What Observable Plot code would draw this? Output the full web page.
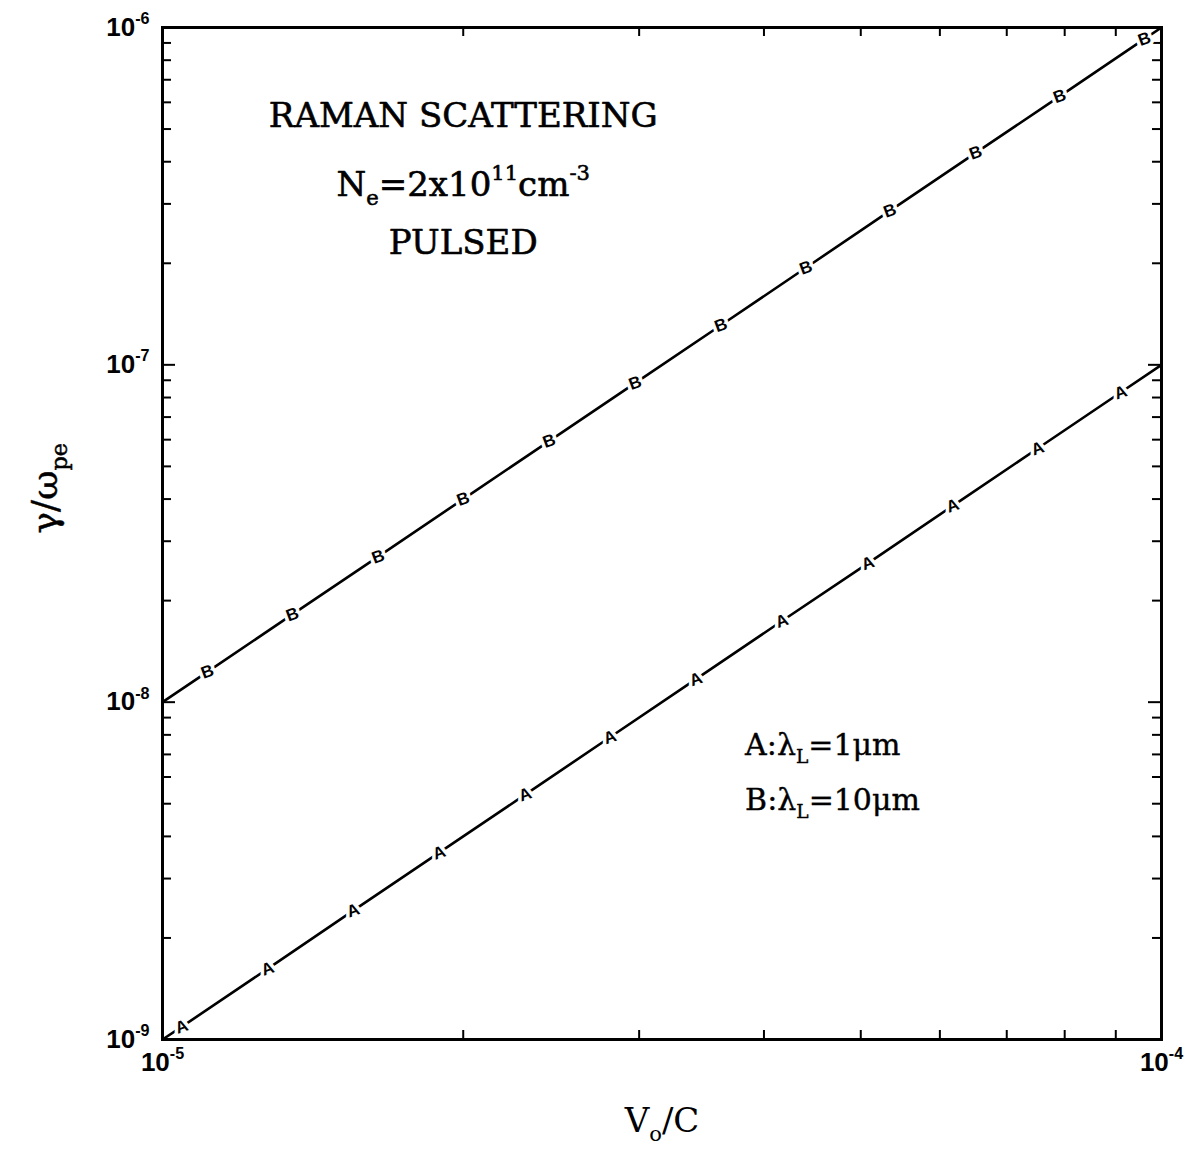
<!DOCTYPE html>
<html>
<head>
<meta charset="utf-8">
<script src="https://cdn.jsdelivr.net/npm/d3@7"></script>
<script src="https://cdn.jsdelivr.net/npm/@observablehq/plot@0.6"></script>
<style>
  html, body { margin: 0; padding: 0; background: #fff; }
  #chart svg { display: block; }
</style>
</head>
<body>
<div id="chart"></div>
<script>
// ---- data ----
// curve B (lambda_L = 10 um): marker positions
const xB = [1.109e-5, 1.349e-5, 1.644e-5, 2.0e-5, 2.438e-5, 2.972e-5, 3.622e-5, 4.406e-5, 5.346e-5, 6.516e-5, 7.907e-5, 9.616e-5];
const yB = [1.23e-8, 1.82e-8, 2.70e-8, 4.0e-8, 5.94e-8, 8.83e-8, 1.31e-7, 1.94e-7, 2.86e-7, 4.25e-7, 6.25e-7, 9.25e-7];
// curve A (lambda_L = 1 um): marker positions
const xA = [1.045e-5, 1.274e-5, 1.552e-5, 1.892e-5, 2.307e-5, 2.805e-5, 3.420e-5, 4.169e-5, 5.082e-5, 6.180e-5, 7.516e-5, 9.099e-5];
const yA = [1.09e-9, 1.62e-9, 2.41e-9, 3.58e-9, 5.32e-9, 7.87e-9, 1.17e-8, 1.74e-8, 2.58e-8, 3.82e-8, 5.65e-8, 8.28e-8];
// curve end points (at the frame edges)
const endX = [1e-5, 1e-4];
const endB = [1e-8, 1e-6];
const endA = [1e-9, 1e-7];

// axis ticks
const xMajor = [1e-5, 1e-4];
const xMinor = [2e-5, 3e-5, 4e-5, 5e-5, 6e-5, 7e-5, 8e-5, 9e-5];
const yMajor = [1e-9, 1e-8, 1e-7, 1e-6];
const yMinor = [];
for (const p of [1e-9, 1e-8, 1e-7]) for (let k = 2; k <= 9; k++) yMinor.push(+(k * p).toPrecision(3));
const xTickLabels = ["10^{-5}", "10^{-4}"];
const yTickLabels = ["10^{-9}", "10^{-8}", "10^{-7}", "10^{-6}"];

// texts
const xTitle = "V_{o}/C";
const yTitle = "γ/ω_{pe}";
const notes = [
  {text: "RAMAN SCATTERING", x: 2.0e-5, y: 5.45e-7},
  {text: "N_{e}=2x10^{11}cm^{-3}", x: 2.0e-5, y: 3.42e-7},
  {text: "PULSED", x: 2.0e-5, y: 2.30e-7}
];
const legend = [
  {text: "A:λ_{L}=1μm", x: 3.83e-5, y: 7.45e-9},
  {text: "B:λ_{L}=10μm", x: 3.83e-5, y: 5.12e-9}
];

// ---- build tables ----
const lineB = [endX[0], ...xB, endX[1]].map((x, i) => ({x, y: [endB[0], ...yB, endB[1]][i]}));
const lineA = [endX[0], ...xA, endX[1]].map((x, i) => ({x, y: [endA[0], ...yA, endA[1]][i]}));
const markB = xB.map((x, i) => ({x, y: yB[i], s: "B"}));
const markA = xA.map((x, i) => ({x, y: yA[i], s: "A"}));
const xLab = xMajor.map((x, i) => ({x, t: xTickLabels[i]}));
const yLab = yMajor.map((y, i) => ({y, t: yTickLabels[i]}));

const W = 1190, H = 1159;
const mL = 162, mR = 29, mT = 27, mB = 120;
const fw = W - mL - mR, fh = H - mT - mB;
const minorLen = 9, majorLen = 13;
const tickFont = "'Liberation Sans', Arial, sans-serif";
const serif = "'DejaVu Serif', serif";

const chart = Plot.plot({
  width: W, height: H,
  marginLeft: mL, marginRight: mR, marginTop: mT, marginBottom: mB,
  style: {background: "#fff", color: "#000"},
  x: {type: "log", domain: [1e-5, 1e-4], axis: null},
  y: {type: "log", domain: [1e-9, 1e-6], axis: null},
  marks: [
    // inward ticks
    Plot.tickX(xMinor, {x: d => d, insetTop: fh - minorLen, stroke: "#000", strokeWidth: 2}),
    Plot.tickX(xMinor, {x: d => d, insetBottom: fh - minorLen, stroke: "#000", strokeWidth: 2}),
    Plot.tickY(yMinor, {y: d => d, insetRight: fw - minorLen, stroke: "#000", strokeWidth: 2}),
    Plot.tickY(yMinor, {y: d => d, insetLeft: fw - minorLen, stroke: "#000", strokeWidth: 2}),
    Plot.tickY(yMajor, {y: d => d, insetRight: fw - majorLen, stroke: "#000", strokeWidth: 2}),
    Plot.tickY(yMajor, {y: d => d, insetLeft: fw - majorLen, stroke: "#000", strokeWidth: 2}),
    Plot.frame({stroke: "#000", strokeWidth: 3}),
    // tick labels
    Plot.text(xLab, {x: "x", text: "t", frameAnchor: "bottom", dy: 31, fontSize: 26, fontWeight: "bold",
      fontFamily: tickFont, fill: "#000", textAnchor: "middle"}),
    Plot.text(yLab, {y: "y", text: "t", frameAnchor: "left", dx: -13, fontSize: 26, fontWeight: "bold",
      fontFamily: tickFont, fill: "#000", textAnchor: "end"}),
    // curves
    Plot.line(lineB, {x: "x", y: "y", stroke: "#000", strokeWidth: 2.6}),
    Plot.line(lineA, {x: "x", y: "y", stroke: "#000", strokeWidth: 2.6}),
    Plot.text(markB, {x: "x", y: "y", text: "s", rotate: -20, fontSize: 17, fontWeight: "bold",
      fontFamily: tickFont, fill: "#000", stroke: "#fff", strokeWidth: 7, paintOrder: "stroke"}),
    Plot.text(markA, {x: "x", y: "y", text: "s", rotate: -20, fontSize: 17, fontWeight: "bold",
      fontFamily: tickFont, fill: "#000", stroke: "#fff", strokeWidth: 7, paintOrder: "stroke"}),
    // annotations
    Plot.text(notes, {x: "x", y: "y", text: "text", fontSize: 34, fontFamily: serif, fill: "#000",
      stroke: "#000", strokeWidth: 0.6, textAnchor: "middle"}),
    Plot.text(legend, {x: "x", y: "y", text: "text", fontSize: 30, fontFamily: serif, fill: "#000",
      stroke: "#000", strokeWidth: 0.4, textAnchor: "start"}),
    // axis titles
    Plot.text([xTitle], {text: d => d, frameAnchor: "bottom", dy: 92, fontSize: 34, fontFamily: serif, fill: "#000"}),
    Plot.text([yTitle], {text: d => d, frameAnchor: "left", dx: -117, rotate: -90, fontSize: 36, fontFamily: serif, fill: "#000",
      stroke: "#000", strokeWidth: 0.5})
  ]
});

// turn _{..} and ^{..} into sub/superscript tspans
function richify(svg) {
  const NS = "http://www.w3.org/2000/svg";
  svg.querySelectorAll("text").forEach(t => {
    const s = t.textContent;
    if (!/[_^]\{/.test(s)) return;
    const parts = [];
    const re = /([_^])\{([^}]*)\}/g;
    let last = 0, m;
    while ((m = re.exec(s))) {
      if (m.index > last) parts.push({kind: "n", str: s.slice(last, m.index)});
      parts.push({kind: m[1] === "^" ? "sup" : "sub", str: m[2]});
      last = re.lastIndex;
    }
    if (last < s.length) parts.push({kind: "n", str: s.slice(last)});
    while (t.firstChild) t.removeChild(t.firstChild);
    const scale = 0.62;
    let offset = 0; // in parent em
    for (const p of parts) {
      const ts = document.createElementNS(NS, "tspan");
      const target = p.kind === "sup" ? -0.45 : p.kind === "sub" ? 0.28 : 0;
      const delta = target - offset;
      if (p.kind === "n") {
        if (delta !== 0) ts.setAttribute("dy", delta + "em");
      } else {
        ts.setAttribute("font-size", (scale * 100) + "%");
        if (delta !== 0) ts.setAttribute("dy", (delta / scale) + "em");
      }
      offset = target;
      ts.textContent = p.str;
      t.appendChild(ts);
    }
  });
}
richify(chart);
document.getElementById("chart").appendChild(chart);
</script>
</body>
</html>
